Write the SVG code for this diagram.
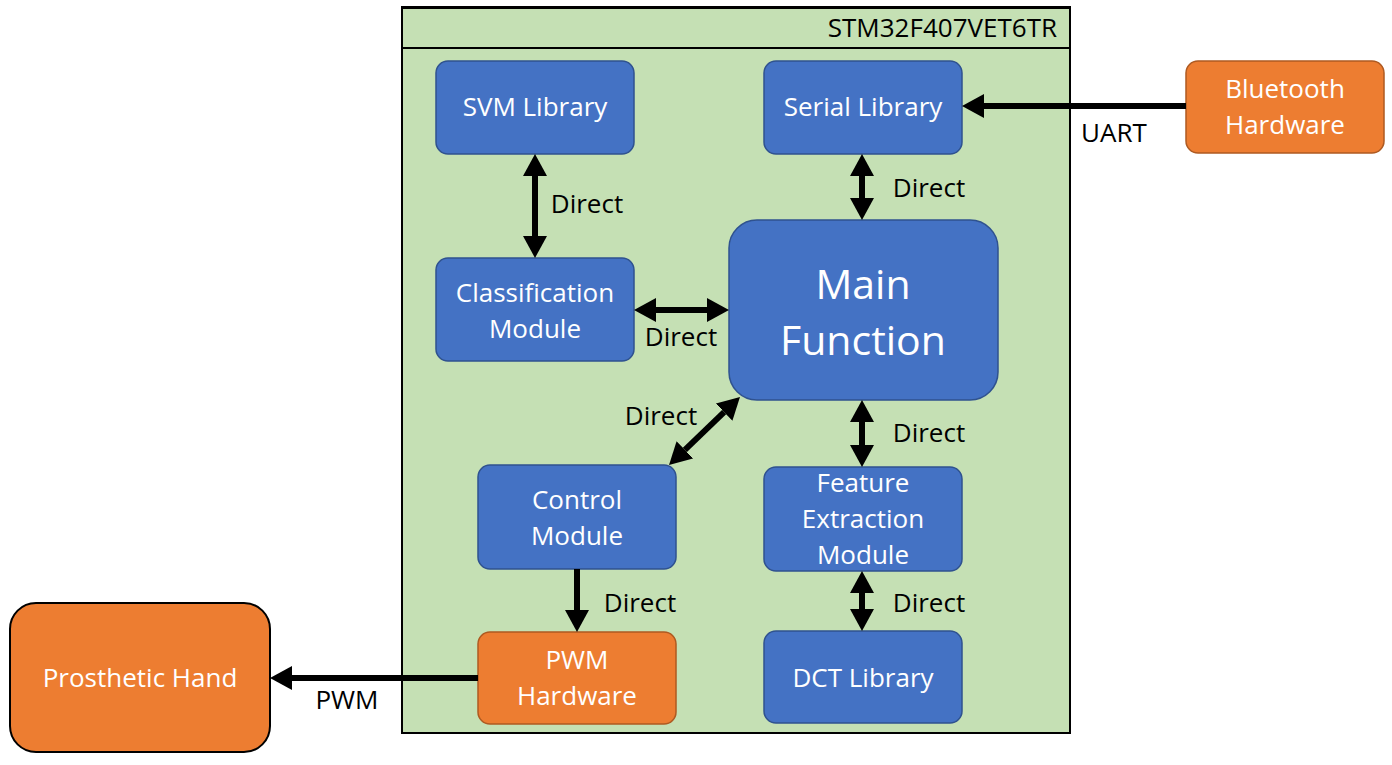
<svg xmlns="http://www.w3.org/2000/svg" width="1392" height="765" viewBox="0 0 1392 765">
<style>
  .blue { fill: #4472C4; stroke: #2F528F; stroke-width: 1.5; }
  .orange { fill: #ED7D31; stroke: #AE5A21; stroke-width: 1.5; }
  .wt { fill: #FFFFFF; font-family: "Open Sans", "Noto Sans", sans-serif; font-size: 26px; text-anchor: middle; dominant-baseline: central; }
  .bt { fill: #000000; font-family: "Open Sans", "Noto Sans", sans-serif; font-size: 26px; text-anchor: middle; dominant-baseline: central; }
  .conn { stroke: #000; stroke-width: 6; fill: none; }
  .dbl { marker-start: url(#ah); marker-end: url(#ah); }
  .sgl { marker-end: url(#ah); }
</style>
<defs>
  <marker id="ah" markerUnits="userSpaceOnUse" markerWidth="22" markerHeight="24" refX="0" refY="12" orient="auto-start-reverse" viewBox="0 0 22 24">
    <path d="M0,0 L22,12 L0,24 z" fill="#000"/>
  </marker>
</defs>
<rect width="1392" height="765" fill="#FFFFFF"/>
<g id="container">
  <rect x="402" y="7" width="668" height="726" fill="#C5E0B4" stroke="#000" stroke-width="2"/>
  <line x1="401" y1="7.5" x2="1071" y2="7.5" stroke="#000" stroke-width="3"/>
  <line x1="402" y1="48" x2="1070" y2="48" stroke="#000" stroke-width="2"/>
  <text x="1057" y="27" class="bt" style="text-anchor:end">STM32F407VET6TR</text>
</g>
<g id="svm-library">
  <rect x="436" y="61" width="198" height="93" rx="12" class="blue"/>
  <text x="535" y="106" class="wt">SVM Library</text>
</g>
<g id="serial-library">
  <rect x="764" y="61" width="198" height="93" rx="12" class="blue"/>
  <text x="863" y="106" class="wt">Serial Library</text>
</g>
<g id="classification-module">
  <rect x="436" y="258" width="198" height="103" rx="12" class="blue"/>
  <text x="535" y="292" class="wt">Classification</text>
  <text x="535" y="328" class="wt">Module</text>
</g>
<g id="main-function">
  <rect x="729" y="220" width="269" height="180" rx="28" class="blue"/>
  <text x="863" y="283" class="wt" style="font-size:41px">Main</text>
  <text x="863" y="339" class="wt" style="font-size:41px">Function</text>
</g>
<g id="control-module">
  <rect x="478" y="465" width="198" height="104" rx="12" class="blue"/>
  <text x="577" y="499" class="wt">Control</text>
  <text x="577" y="535" class="wt">Module</text>
</g>
<g id="feature-extraction-module">
  <rect x="764" y="467" width="198" height="104" rx="12" class="blue"/>
  <text x="863" y="482" class="wt">Feature</text>
  <text x="863" y="518" class="wt">Extraction</text>
  <text x="863" y="554" class="wt">Module</text>
</g>
<g id="pwm-hardware">
  <rect x="478" y="632" width="198" height="92" rx="12" class="orange"/>
  <text x="577" y="659" class="wt">PWM</text>
  <text x="577" y="695" class="wt">Hardware</text>
</g>
<g id="dct-library">
  <rect x="764" y="631" width="198" height="92" rx="12" class="blue"/>
  <text x="863" y="677" class="wt">DCT Library</text>
</g>
<g id="bluetooth-hardware">
  <rect x="1186" y="61" width="198" height="92" rx="12" class="orange"/>
  <text x="1285" y="88" class="wt">Bluetooth</text>
  <text x="1285" y="124" class="wt">Hardware</text>
</g>
<g id="prosthetic-hand">
  <rect x="10" y="603" width="260" height="149" rx="26" fill="#ED7D31" stroke="#000" stroke-width="2"/>
  <text x="140" y="677" class="wt">Prosthetic Hand</text>
</g>
<g id="connectors">
  <line x1="535" y1="176" x2="535" y2="236" class="conn dbl"/>
  <line x1="862" y1="176" x2="862" y2="198" class="conn dbl"/>
  <line x1="656" y1="310" x2="707" y2="310" class="conn dbl"/>
  <line x1="724.1" y1="412.2" x2="684.9" y2="449.8" class="conn dbl"/>
  <line x1="862" y1="422" x2="862" y2="445" class="conn dbl"/>
  <line x1="862" y1="593" x2="862" y2="609" class="conn dbl"/>
  <line x1="577" y1="569" x2="577" y2="610" class="conn sgl"/>
  <line x1="478" y1="678" x2="292" y2="678" class="conn sgl"/>
  <line x1="1186" y1="106" x2="984" y2="106" class="conn sgl"/>
  <text x="587" y="203" class="bt">Direct</text>
  <text x="929" y="187" class="bt">Direct</text>
  <text x="681" y="336" class="bt">Direct</text>
  <text x="661" y="415" class="bt">Direct</text>
  <text x="929" y="432" class="bt">Direct</text>
  <text x="929" y="602" class="bt">Direct</text>
  <text x="640" y="602" class="bt">Direct</text>
  <text x="1114" y="132" class="bt">UART</text>
  <text x="347" y="699" class="bt">PWM</text>
</g>
</svg>
